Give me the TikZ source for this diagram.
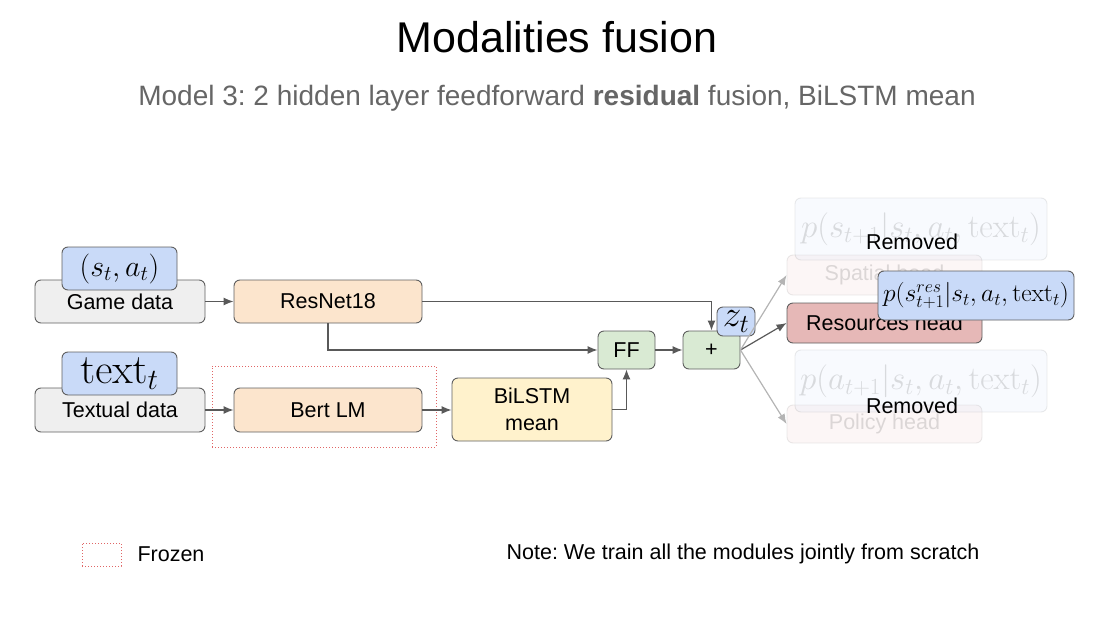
\documentclass[tikz,border=0pt]{standalone}
\usepackage{fix-cm}
\usepackage[no-math]{fontspec}
\setmainfont{Liberation Sans}
\usetikzlibrary{arrows.meta}
\definecolor{boxline}{RGB}{95,95,95}
\definecolor{arrowgray}{RGB}{89,89,89}
\definecolor{subgray}{RGB}{102,102,102}
\definecolor{inputgray}{RGB}{239,239,239}
\definecolor{netorange}{RGB}{252,229,205}
\definecolor{lstmyellow}{RGB}{255,242,204}
\definecolor{ffgreen}{RGB}{217,234,211}
\definecolor{mathblue}{RGB}{201,218,248}
\definecolor{headred}{RGB}{230,184,183}
\definecolor{frozenred}{RGB}{224,102,102}

\begin{document}
\frenchspacing
\begin{tikzpicture}[x=1pt,y=-1pt]
\tikzstyle{lelement}=[rectangle,rounded corners=6pt,draw=boxline,line width=0.9pt,inner sep=0pt,font=\fontsize{21.5}{27}\selectfont]
\tikzstyle{mathelement}=[lelement,fill=mathblue]
\tikzstyle{faded}=[opacity=0.13]
\tikzstyle{frozenbox}=[rectangle,draw=frozenred,dotted,line width=1pt,inner sep=0pt]

\useasboundingbox (0,0) rectangle (1116,618);

\node (T) at (557,37) {\fontsize{43}{48}\selectfont Modalities fusion};
\node [text=subgray] (S) at (557,98) {\fontsize{28}{32}\selectfont Model 3: 2 hidden layer feedforward \textbf{residual} fusion, BiLSTM mean};

\node [frozenbox, minimum width=224pt, minimum height=81pt] (Z) at (324,406.5) {};

\node [lelement, fill=inputgray, minimum width=170pt, minimum height=43pt] (A) at (120,301.5) {Game data};
\node [mathelement, minimum width=115pt, minimum height=43pt, font=\fontsize{30}{32}\selectfont] (A1) at (119.5,268.5) {$(s_t,a_t)$};
\node [lelement, fill=inputgray, minimum width=170pt, minimum height=44pt] (B) at (120,410) {Textual data};
\node [mathelement, minimum width=115pt, minimum height=43pt, font=\fontsize{42}{44}\selectfont] (B1) at (119.5,373.5) {$\mathrm{text}_t$};

\node [lelement, fill=netorange, minimum width=188pt, minimum height=43pt] (C) at (328,301.5) {ResNet18};
\node [lelement, fill=netorange, minimum width=188pt, minimum height=44pt] (D) at (328,410) {Bert LM};
\node [lelement, fill=lstmyellow, minimum width=160pt, minimum height=63pt, align=center] (E) at (532,409.5) {BiLSTM\\mean};
\node [lelement, fill=ffgreen, minimum width=57pt, minimum height=38pt] (F) at (626.5,350) {FF};
\node [lelement, fill=ffgreen, minimum width=57pt, minimum height=38pt] (P) at (711.5,350) {+};
\node [mathelement, minimum width=38pt, minimum height=29pt, font=\fontsize{37}{39}\selectfont] (Zt) at (736,321.5) {$z_t$};

% removed heads
\node [lelement, faded, fill=headred, minimum width=195pt, minimum height=40pt] (SH) at (884.5,275) {Spatial head};
\node [lelement, faded, fill=mathblue, minimum width=252pt, minimum height=62pt, font=\fontsize{33}{35}\selectfont] (SP) at (921,229) {$p(s_{t+1}|s_t,a_t,\mathrm{text}_t)$};
\node [lelement, faded, fill=headred, minimum width=195pt, minimum height=38pt] (PH) at (884.5,424) {Policy head};
\node [lelement, faded, fill=mathblue, minimum width=252pt, minimum height=62pt, font=\fontsize{33}{35}\selectfont] (PP) at (921,381) {$p(a_{t+1}|s_t,a_t,\mathrm{text}_t)$};

\node [lelement, fill=headred, minimum width=195pt, minimum height=40pt] (R) at (884.5,323) {Resources head};
\node [mathelement, minimum width=196pt, minimum height=49pt, font=\fontsize{25.5}{27}\selectfont] (RP) at (976,295.5) {$p(s^{res}_{t+1}|s_t,a_t,\mathrm{text}_t)$};

\node [font=\fontsize{21.5}{24}\selectfont] (X1) at (912,242) {Removed};
\node [font=\fontsize{21.5}{24}\selectfont] (X2) at (912,406) {Removed};

\draw[->,draw=arrowgray,line width=1.2pt,>={Latex[length=10pt,width=8pt]}] (A) -- (C);
\draw[->,draw=arrowgray,line width=1.2pt,>={Latex[length=10pt,width=8pt]}] (B) -- (D);
\draw[->,draw=arrowgray,line width=1.2pt,>={Latex[length=10pt,width=8pt]}] (D.east) -- (D.east -| E.west);
\draw[->,draw=arrowgray,line width=1.2pt,>={Latex[length=10pt,width=8pt]}] (C.east) -| (P.north);
\draw[->,draw=arrowgray,line width=1.2pt,>={Latex[length=10pt,width=8pt]}] (C.south) |- (F.west);
\draw[->,draw=arrowgray,line width=1.2pt,>={Latex[length=10pt,width=8pt]}] (E.east) -| (F.south);
\draw[->,draw=arrowgray,line width=1.2pt,>={Latex[length=10pt,width=8pt]}] (F) -- (P);
\draw[->,draw=arrowgray,line width=1.2pt,>={Latex[length=10pt,width=8pt]}] (P.east) -- (R.west);
\draw[->,draw=arrowgray!45,line width=1.2pt,>={Latex[length=10pt,width=8pt]}] (P.east) -- (SH.west);
\draw[->,draw=arrowgray!45,line width=1.2pt,>={Latex[length=10pt,width=8pt]}] (P.east) -- (PH.west);

\node [frozenbox, minimum width=39pt, minimum height=23pt] (L) at (101.5,554.5) {};
\node [anchor=west, font=\fontsize{21.5}{24}\selectfont] (L1) at (134,554) {Frozen};
\node [font=\fontsize{21.5}{24}\selectfont] (N) at (743,554) {Note: We train all the modules jointly from scratch};
\end{tikzpicture}
\end{document}
